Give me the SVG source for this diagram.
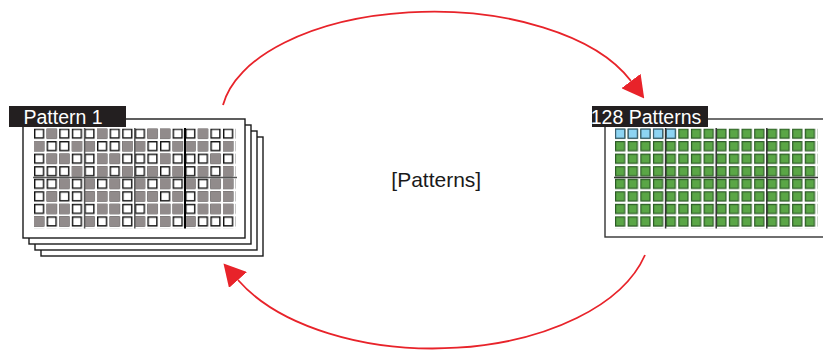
<svg xmlns="http://www.w3.org/2000/svg" xmlns:xlink="http://www.w3.org/1999/xlink" width="823" height="350" viewBox="0 0 823 350">
<style>
.card{fill:#fff;stroke:#1a1a1a;stroke-width:1.4}
.lbl{fill:#231f20}
.lt{font-family:"Liberation Sans",Arial,sans-serif;font-size:19.5px;fill:#fff}
.ct{font-family:"Liberation Sans",Arial,sans-serif;font-size:21px;fill:#1a1a1a}
.gr{fill:#918b8b}
.bl{fill:#8dd4f2;stroke:#3b5f70;stroke-width:1.2}
.dv{stroke:#555;stroke-width:1.5;fill:none}
.dk{stroke:#000;stroke-width:2;fill:none}
.arc{fill:none;stroke:#e8232a;stroke-width:1.8}
</style>
<defs>
<pattern id="wcell" patternUnits="userSpaceOnUse" x="34" y="128.5" width="12.6" height="12.55"><rect x="0.7" y="0.7" width="8.8" height="8.8" fill="#fff" stroke="#111" stroke-width="1.4"/></pattern>
<pattern id="gcell" patternUnits="userSpaceOnUse" x="615" y="128.5" width="12.65" height="12.55"><rect x="0.6" y="0.6" width="9.1" height="9.1" fill="#5aa646" stroke="#2b5a25" stroke-width="1.2"/></pattern>
<rect id="g" width="10.2" height="10.2" class="gr"/>
<marker id="ah" markerUnits="userSpaceOnUse" markerWidth="22" markerHeight="24" viewBox="0 -12 22 24" refX="0" refY="0" orient="auto"><path d="M0,-12 L22,0 L0,12 z" fill="#e8232a"/></marker>
</defs>

<g id="connectors">
<path class="arc" d="M223,105 A212,108 0 0 1 631,81" marker-end="url(#ah)"/>
<path class="arc" d="M645,255 A218,123 0 0 1 238,280" marker-end="url(#ah)"/>
</g>

<g id="pattern1">
<rect class="card" x="41" y="137" width="222" height="119"/>
<rect class="card" x="35" y="131" width="222" height="119"/>
<rect class="card" x="29" y="125" width="222" height="119"/>
<rect class="card" x="23" y="119" width="222" height="119"/>
<rect x="34" y="128.5" width="201.6" height="100.4" fill="url(#wcell)"/>
<use xlink:href="#g" x="46.6" y="128.5"/><use xlink:href="#g" x="97" y="128.5"/><use xlink:href="#g" x="147.4" y="128.5"/><use xlink:href="#g" x="160" y="128.5"/><use xlink:href="#g" x="197.8" y="128.5"/>
<use xlink:href="#g" x="34" y="141.05"/><use xlink:href="#g" x="71.8" y="141.05"/><use xlink:href="#g" x="84.4" y="141.05"/><use xlink:href="#g" x="122.2" y="141.05"/><use xlink:href="#g" x="134.8" y="141.05"/><use xlink:href="#g" x="172.6" y="141.05"/><use xlink:href="#g" x="185.2" y="141.05"/><use xlink:href="#g" x="197.8" y="141.05"/><use xlink:href="#g" x="223" y="141.05"/>
<use xlink:href="#g" x="46.6" y="153.6"/><use xlink:href="#g" x="59.2" y="153.6"/><use xlink:href="#g" x="97" y="153.6"/><use xlink:href="#g" x="109.6" y="153.6"/><use xlink:href="#g" x="160" y="153.6"/><use xlink:href="#g" x="210.4" y="153.6"/>
<use xlink:href="#g" x="71.8" y="166.15"/><use xlink:href="#g" x="97" y="166.15"/><use xlink:href="#g" x="122.2" y="166.15"/><use xlink:href="#g" x="147.4" y="166.15"/><use xlink:href="#g" x="172.6" y="166.15"/><use xlink:href="#g" x="197.8" y="166.15"/><use xlink:href="#g" x="223" y="166.15"/>
<use xlink:href="#g" x="59.2" y="178.7"/><use xlink:href="#g" x="84.4" y="178.7"/><use xlink:href="#g" x="109.6" y="178.7"/><use xlink:href="#g" x="134.8" y="178.7"/><use xlink:href="#g" x="160" y="178.7"/><use xlink:href="#g" x="185.2" y="178.7"/><use xlink:href="#g" x="210.4" y="178.7"/><use xlink:href="#g" x="223" y="178.7"/>
<use xlink:href="#g" x="46.6" y="191.25"/><use xlink:href="#g" x="84.4" y="191.25"/><use xlink:href="#g" x="97" y="191.25"/><use xlink:href="#g" x="109.6" y="191.25"/><use xlink:href="#g" x="134.8" y="191.25"/><use xlink:href="#g" x="147.4" y="191.25"/><use xlink:href="#g" x="172.6" y="191.25"/><use xlink:href="#g" x="197.8" y="191.25"/><use xlink:href="#g" x="210.4" y="191.25"/><use xlink:href="#g" x="223" y="191.25"/>
<use xlink:href="#g" x="46.6" y="203.8"/><use xlink:href="#g" x="59.2" y="203.8"/><use xlink:href="#g" x="97" y="203.8"/><use xlink:href="#g" x="109.6" y="203.8"/><use xlink:href="#g" x="147.4" y="203.8"/><use xlink:href="#g" x="160" y="203.8"/><use xlink:href="#g" x="172.6" y="203.8"/><use xlink:href="#g" x="197.8" y="203.8"/><use xlink:href="#g" x="210.4" y="203.8"/><use xlink:href="#g" x="223" y="203.8"/>
<use xlink:href="#g" x="34" y="216.35"/><use xlink:href="#g" x="59.2" y="216.35"/><use xlink:href="#g" x="84.4" y="216.35"/><use xlink:href="#g" x="109.6" y="216.35"/><use xlink:href="#g" x="134.8" y="216.35"/><use xlink:href="#g" x="160" y="216.35"/><use xlink:href="#g" x="185.2" y="216.35"/>
<path class="dv" d="M84.6,128 V228.5 M134.8,128 V228.5 M33,177.6 H237"/>
<path class="dk" d="M185,128 V228.5"/>
<rect class="lbl" x="9" y="106" width="117" height="21"/>
<text class="lt" x="23.5" y="123.5">Pattern 1</text>
</g>

<g id="patterns128">
<rect class="card" x="605" y="119" width="260" height="118" style="stroke:#333"/>
<rect x="615" y="128.5" width="202.4" height="100.4" fill="url(#gcell)"/>
<rect class="bl" x="615.6" y="129.1" width="9.1" height="9.1"/><rect class="bl" x="628.25" y="129.1" width="9.1" height="9.1"/><rect class="bl" x="640.9" y="129.1" width="9.1" height="9.1"/><rect class="bl" x="653.55" y="129.1" width="9.1" height="9.1"/><rect class="bl" x="666.2" y="129.1" width="9.1" height="9.1"/>
<path class="dv" d="M665.6,128 V228.5 M716.2,128 V228.5 M766.8,128 V228.5 M614,177.6 H818" style="stroke:#333"/>
<rect class="lbl" x="592" y="106" width="116" height="21"/>
<text class="lt" x="590.7" y="123.5">128 Patterns</text>
</g>

<g id="center">
<text class="ct" x="391.3" y="187">[Patterns]</text>
</g>
</svg>
